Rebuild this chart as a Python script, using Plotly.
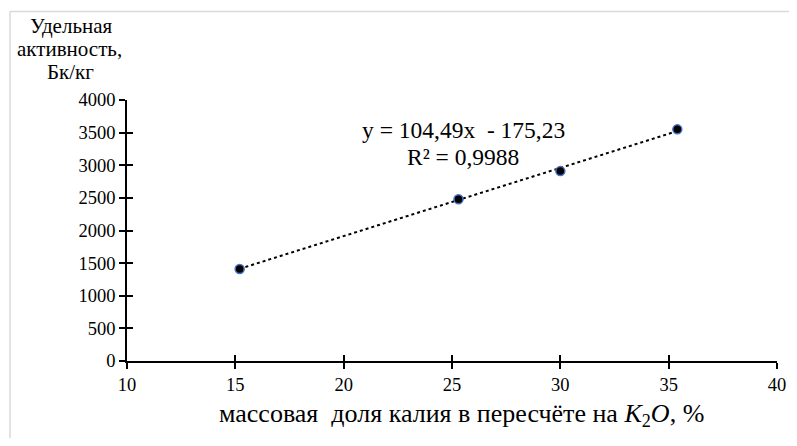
import plotly.graph_objects as go

# Data
k2o_percent = [15.2, 25.3, 30.0, 35.4]
activity = [1410, 2480, 2910, 3550]
trend_slope = [104.49]
trend_intercept = [-175.23]
x_ticks = [10, 15, 20, 25, 30, 35, 40]
y_ticks = [0, 500, 1000, 1500, 2000, 2500, 3000, 3500, 4000]
y_title_lines = ["Удельная", "активность,", "Бк/кг"]
equation_lines = ["y = 104,49x  - 175,23", "R² = 0,9988"]
x_title = "массовая  доля калия в пересчёте на <i>K</i><sub>2</sub><i>O</i>, %"

FONT = "Liberation Serif"

trend_x = [min(k2o_percent), max(k2o_percent)]
trend_y = [trend_slope[0] * v + trend_intercept[0] for v in trend_x]

fig = go.Figure()
fig.add_trace(go.Scatter(
    x=trend_x, y=trend_y, mode="lines",
    line=dict(color="black", width=2, dash="dot"),
    hoverinfo="skip", showlegend=False,
))
fig.add_trace(go.Scatter(
    x=k2o_percent, y=activity, mode="markers",
    marker=dict(color="black", size=9, line=dict(color="#4472C4", width=1.5)),
    showlegend=False,
))

axis_common = dict(showgrid=False, zeroline=False, automargin=False,
                   tickfont=dict(family=FONT, size=18.5, color="black"))

# page body has an 8px margin, so the figure is offset by (8, 8)
fig.update_layout(
    width=781, height=430,
    margin=dict(l=119, r=12, t=92, b=77),
    paper_bgcolor="white", plot_bgcolor="white",
    font=dict(family=FONT, color="black"),
    xaxis=dict(range=[10, 40], tickvals=x_ticks, ticks="outside", ticklen=6,
               tickcolor="black", tickwidth=1.5, showline=True, linecolor="black",
               linewidth=1.5, **axis_common),
    yaxis=dict(range=[0, 4000], tickvals=y_ticks, ticks="outside", ticklen=6,
               tickcolor="black", tickwidth=1.5, showline=True, linecolor="black",
               linewidth=1.5, **axis_common),
    xaxis2=dict(overlaying="x", range=[10, 40], tickvals=x_ticks, ticks="inside",
                ticklen=6, tickcolor="black", tickwidth=1.5, showticklabels=False,
                showline=False, showgrid=False, zeroline=False, side="bottom"),
    yaxis2=dict(overlaying="y", range=[0, 4000], tickvals=y_ticks, ticks="inside",
                ticklen=6, tickcolor="black", tickwidth=1.5, showticklabels=False,
                showline=False, showgrid=False, zeroline=False, side="left"),
)

# invisible trace to bind the overlay axes
fig.add_trace(go.Scatter(x=[None], y=[None], xaxis="x2", yaxis="y2",
                         showlegend=False, hoverinfo="skip"))

def px_x(p):  # page pixel -> paper x
    return (p - 127) / 650

def px_y(p):  # page pixel -> paper y
    return (361 - p) / 261

# x axis title
fig.add_annotation(
    text=x_title, xref="paper", yref="paper", x=px_x(462), y=px_y(415),
    xanchor="center", yanchor="middle", showarrow=False,
    font=dict(family=FONT, size=26, color="black"),
)
# y axis title (top-left), one line per annotation, left edges as in the reference
for line, lx, cy in zip(y_title_lines, [28, 15, 45], [26, 49, 72]):
    fig.add_annotation(
        text=line, xref="paper", yref="paper", x=px_x(lx), y=px_y(cy),
        xanchor="left", yanchor="middle", showarrow=False,
        font=dict(family=FONT, size=21, color="black"),
    )
# equation annotation
for line, cy in zip(equation_lines, [130, 157]):
    fig.add_annotation(
        text=line, xref="paper", yref="paper", x=px_x(463), y=px_y(cy),
        xanchor="center", yanchor="middle", showarrow=False,
        font=dict(family=FONT, size=23.5, color="black"),
    )

# light chart frame (top and left edges)
fig.add_shape(type="line", xref="paper", yref="paper",
              x0=px_x(10), x1=px_x(796), y0=px_y(11.5), y1=px_y(11.5),
              line=dict(color="#d9d9d9", width=1.5))
fig.add_shape(type="line", xref="paper", yref="paper",
              x0=px_x(10), x1=px_x(10), y0=px_y(11.5), y1=px_y(446),
              line=dict(color="#d9d9d9", width=1.5))

fig.write_html("out.html")
